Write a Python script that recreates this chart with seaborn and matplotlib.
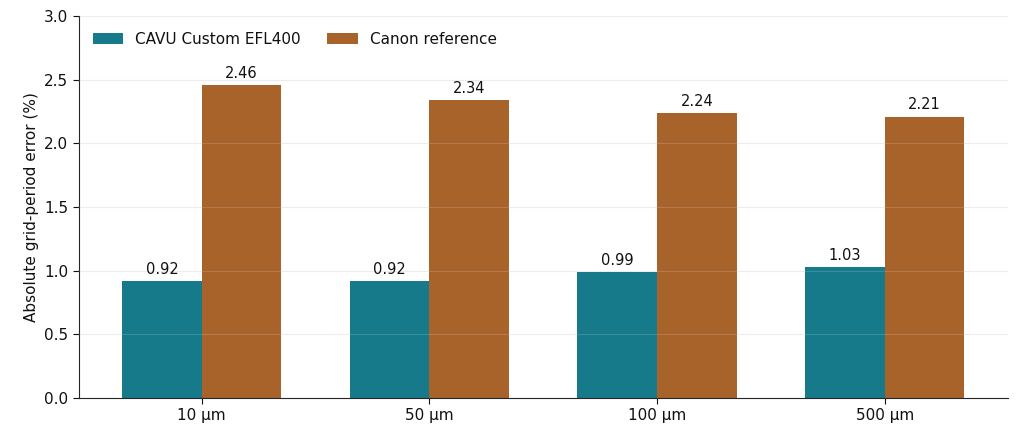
import matplotlib
matplotlib.use("Agg")
import matplotlib.pyplot as plt
import pandas as pd
import seaborn as sns

# Hodnoty
grid_sizes = ["10 µm", "50 µm", "100 µm", "500 µm"]
cavu_err = [0.92, 0.92, 0.99, 1.03]
canon_err = [2.46, 2.34, 2.24, 2.21]
series_names = ["CAVU Custom EFL400", "Canon reference"]

df = pd.DataFrame({
    "grid": grid_sizes * 2,
    "error": cavu_err + canon_err,
    "series": [series_names[0]] * 4 + [series_names[1]] * 4,
})

sns.set_style("white")
plt.rcParams['font.family'] = ['DejaVu Sans']
plt.rcParams['text.color'] = '#111111'
plt.rcParams['axes.labelcolor'] = '#111111'
plt.rcParams['xtick.color'] = '#111111'
plt.rcParams['ytick.color'] = '#111111'

fig = plt.figure(figsize=(10.24, 4.32), dpi=100)
ax = fig.add_axes([0.077, 0.079, 0.907, 0.884])

ax.yaxis.grid(True, color="#ebebeb", linewidth=0.8)
ax.set_axisbelow(True)

sns.barplot(data=df, x="grid", y="error", hue="series", ax=ax,
            palette=["#177a8a", "#a8632b"], width=0.7,
            saturation=1, edgecolor="none")

ax.set_ylim(0, 3.0)
ax.set_xlim(-0.54, 3.54)

# slaba mrizka i pres sloupce
for yt in ax.get_yticks()[1:]:
    ax.axhline(yt, color="white", linewidth=0.8, alpha=0.15, zorder=3)

for cont in ax.containers:
    ax.bar_label(cont, fmt="%.2f", padding=3, fontsize=10.5)

ax.set_xlabel("")
ax.set_ylabel("Absolute grid-period error (%)", fontsize=11)
ax.tick_params(axis="both", labelsize=11, length=4, left=True, bottom=True)
sns.despine(ax=ax)
ax.legend(loc="upper left", ncol=2, frameon=False, fontsize=11,
          bbox_to_anchor=(0.0, 0.995), columnspacing=1.7)

fig.savefig("out.png", dpi=100)
